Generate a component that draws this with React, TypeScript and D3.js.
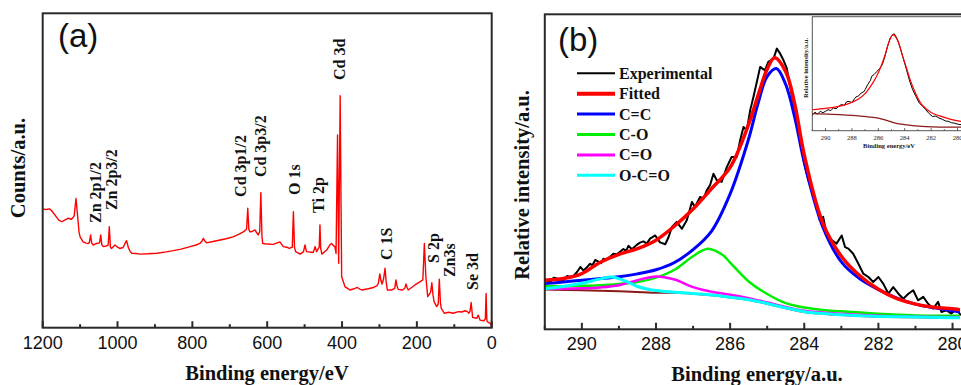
import React from 'react';
import * as d3 from 'd3';

type Pt = [number, number];

// (a) survey spectrum: binding energy (eV), counts (a.u.)
const surveyPoints: Pt[] = [
  [1200, 37.7], [1190, 37.6], [1182, 37.8], [1176, 37.2], [1165, 35.5], [1157, 34.2], [1149, 33.7],
  [1140, 34.3], [1132, 34.8], [1123, 34.5], [1116, 35.5], [1111, 41.1], [1107, 36], [1103, 30.5],
  [1100, 28.9], [1092, 27.3], [1084, 26.9], [1078, 26.8], [1075, 27.2], [1072, 29.5], [1069, 26.9],
  [1065, 26.3], [1056, 26.8], [1048, 27.0], [1045, 29.5], [1042, 26.4], [1038, 25.8], [1030, 26.0],
  [1025, 26.3], [1022, 32.1], [1019, 25.6], [1016, 25.2], [1007, 26.3], [1000, 25.6], [994, 25.2],
  [985, 25.5], [980, 26.8], [976, 27.7], [971, 25.5], [966, 24.2], [962, 23.7], [950, 23.6], [940, 23.4],
  [920, 23.5], [895, 23.7], [870, 24.1], [851, 24.5], [830, 25.0], [806, 25.8], [790, 26.3], [780, 26.8],
  [774, 27.6], [771, 28.4], [766, 27.5], [762, 27.0], [745, 27.4], [726, 27.9], [710, 28.3], [691, 28.9],
  [675, 29.8], [664, 30.5], [657, 31.1], [655, 31.5], [652, 38.0], [649, 31.2], [646, 30.5], [640, 30.6],
  [633, 31.1], [628, 30.2], [624, 29.5], [620, 30.5], [617, 42.9], [614, 29.0], [612, 26.8], [600, 26.6],
  [584, 26.5], [575, 26.9], [566, 27.3], [557, 25.8], [548, 25.6], [541, 25.2], [533, 25.6], [530, 36.9],
  [527, 25.5], [524, 24.2], [512, 23.4], [503, 24.2], [499, 26.3], [495, 24.2], [477, 23.9], [472, 25.8],
  [468, 24.2], [463, 25.2], [461, 25.6], [459, 32.7], [457, 25.2], [454, 23.4], [441, 24.7], [432, 26.4],
  [428, 26.8], [422, 26.0], [419, 25.8], [416, 23.6], [412, 61.3], [409, 20.5], [405, 73.8], [401, 16.2],
  [392, 13.0], [385, 12.5], [379, 12.0], [370, 12.3], [359, 12.8], [353, 12.3], [347, 12.0], [330, 12.4],
  [316, 12.8], [307, 13.3], [303, 14.1], [299, 17.1], [296, 15], [293, 13.9], [289, 15.5], [285, 18.9],
  [282, 14.5], [279, 12.0], [267, 12.0], [259, 12.5], [256, 15.2], [253, 13.3], [250, 12.2], [238, 12.0],
  [232, 12.6], [229, 13.9], [226, 12.8], [223, 12.0], [215, 12.7], [205, 13.6], [192, 14.6], [184, 15.2],
  [180, 26.8], [176, 16.2], [171, 9.9], [165, 10.9], [163, 11.5], [160, 14.3], [157, 10.5], [154, 8.3],
  [147, 6.7], [143, 7.5], [140, 15.4], [137, 8.0], [135, 6.2], [127, 4.6], [115, 4.9], [103, 4.6], [89, 5.1],
  [80, 5.0], [71, 5.4], [64, 5.0], [61, 4.6], [58, 5.2], [55, 8.0], [52, 4.5], [51, 3.3], [40, 3.0], [36, 4.0],
  [31, 2.4], [21, 2.2], [17, 2.8], [15, 10.9], [13, 2.5], [12, 1.9], [4, 1.4], [0, 0.3],
];

// peak assignments: binding energy and intensity where the rotated text starts
const surveyLabels = [
  { text: 'Zn 2p1/2', be: 1044, level: 33.3 },
  { text: 'Zn 2p3/2', be: 1001, level: 37.4 },
  { text: 'Cd 3p1/2', be: 656, level: 41.6 },
  { text: 'Cd 3p3/2', be: 603, level: 47.9 },
  { text: 'O 1s', be: 512, level: 42.2 },
  { text: 'Ti 2p', be: 447, level: 36.5 },
  { text: 'Cd 3d', be: 392, level: 78.8 },
  { text: 'C 1S', be: 266, level: 21.5 },
  { text: 'S 2p', be: 142, level: 20.6 },
  { text: 'Zn3s', be: 98, level: 16.1 },
  { text: 'Se 3d', be: 37, level: 12.0 },
];

const surveyTicks = [1200, 1000, 800, 600, 400, 200, 0];
const surveyMinor = [1100, 900, 700, 500, 300, 100];

// (b) C 1s high resolution spectrum
const experimental: Pt[] = [
  [290.99, 15.8], [290.85, 15.0], [290.76, 16.4], [290.67, 16.1], [290.58, 15.2], [290.49, 15.6],
  [290.40, 16.9], [290.31, 16.6], [290.22, 17.0], [290.13, 18.2], [290.04, 19.8], [289.96, 18.7],
  [289.87, 19.6], [289.78, 20.8], [289.71, 20.4], [289.64, 22.0], [289.55, 21.5], [289.48, 21.0],
  [289.42, 22.4], [289.33, 22.2], [289.24, 23.0], [289.15, 24.0], [289.06, 23.8], [288.97, 24.6],
  [288.88, 25.5], [288.81, 24.9], [288.74, 26.5], [288.65, 25.4], [288.52, 26.8], [288.43, 27.5],
  [288.34, 27.9], [288.25, 27.2], [288.16, 28.8], [288.02, 29.8], [287.95, 28.5], [287.89, 27.6],
  [287.75, 27.0], [287.66, 29.3], [287.57, 32.5], [287.44, 34.1], [287.30, 31.9], [287.17, 34.6],
  [287.03, 40.4], [286.95, 38.8], [286.81, 42.0], [286.72, 41.5], [286.63, 44.1], [286.54, 45.8],
  [286.45, 49.4], [286.36, 47.3], [286.23, 46.8], [286.09, 51.5], [285.96, 54.7], [285.82, 54.7],
  [285.73, 60.0], [285.64, 64.2], [285.55, 63.2], [285.46, 69.5], [285.37, 73.8], [285.28, 78.5],
  [285.19, 83.3], [285.06, 82.2], [284.97, 84.9], [284.83, 85.9], [284.74, 89.1], [284.65, 87.5],
  [284.56, 85.4], [284.47, 82.8], [284.38, 76.9], [284.25, 69.5], [284.16, 63.2], [284.07, 56.8],
  [283.98, 51.5], [283.89, 47.3], [283.76, 43.1], [283.62, 36.7], [283.58, 34.6], [283.49, 35.7],
  [283.40, 30.4], [283.26, 28.3], [283.13, 27.2], [282.99, 29.8], [282.90, 26.1], [282.81, 25.6],
  [282.68, 24.0], [282.54, 20.8], [282.41, 17.7], [282.27, 16.6], [282.14, 15.0], [282.00, 16.6],
  [281.87, 14.5], [281.73, 11.3], [281.60, 13.4], [281.46, 11.3], [281.33, 9.7], [281.19, 11.3],
  [281.06, 12.4], [280.93, 9.2], [280.79, 10.3], [280.66, 8.1], [280.52, 6.6], [280.39, 8.7],
  [280.30, 5.5], [280.16, 6.0], [280.03, 5.0], [279.89, 6.6], [279.78, 4.4],
];

const fitted: Pt[] = [
  [291, 15.6], [290.5, 16.1], [290, 17.7], [289.5, 21.3], [289, 23.8], [288.5, 25.6], [288, 28.3],
  [287.5, 32.8], [287, 38.2], [286.5, 44.7], [286, 51.4], [285.5, 65.1], [285.25, 74.1], [285, 82.6],
  [284.8, 86.2], [284.5, 81.8], [284.25, 71.1], [284, 55.3], [283.5, 33.7], [283, 23.2], [282.5, 17.0],
  [282, 12.7], [281.5, 9.7], [281, 8.0], [280.5, 7.0], [280, 6.5], [279.8, 6.2],
];

const cEqC: Pt[] = [
  [291, 14.5], [290.5, 15.0], [290, 15.6], [289.5, 16.1], [289, 16.7], [288.5, 17.6], [288, 18.9],
  [287.5, 21.2], [287, 25.3], [286.5, 31.2], [286, 43.0], [285.5, 60.5], [285.25, 71.6], [285, 80.3],
  [284.75, 82.8], [284.5, 77.7], [284.25, 66.9], [284, 53.0], [283.5, 32.5], [283, 21.4], [282.5, 16.0],
  [282, 12.6], [281.5, 9.9], [281, 8.0], [280.5, 6.8], [280, 5.9], [279.8, 5.5],
];

const cO: Pt[] = [
  [291, 13.7], [290.5, 13.7], [290, 13.8], [289.5, 14.0], [289, 14.4], [288.5, 15.0], [288, 16.4],
  [287.5, 18.9], [287, 23.2], [286.6, 25.6], [286.2, 23.6], [286, 21.2], [285.5, 15.2], [285, 11.2],
  [284.5, 8.3], [284, 6.9], [283.5, 6.1], [283, 5.7], [282, 4.9], [281, 4.4], [280, 4.3], [279.8, 4.3],
];

const cEqO: Pt[] = [
  [291, 12.9], [290.5, 12.9], [290, 13.0], [289.5, 13.3], [289, 14.0], [288.5, 15.6], [288, 16.8],
  [287.5, 15.8], [287, 13.4], [286.5, 11.9], [286, 11.0], [285.5, 9.9], [285, 8.5], [284.5, 7.1],
  [284, 5.9], [283, 4.9], [282, 4.3], [281, 4.0], [279.8, 3.8],
];

const oCeqO: Pt[] = [
  [291, 12.9], [290.5, 13.6], [290, 14.6], [289.5, 16.0], [289.2, 16.6], [288.8, 15.2], [288.5, 13.6],
  [288, 12.3], [287.5, 11.8], [287, 11.4], [286.5, 10.9], [286, 10.2], [285.5, 9.4], [285, 8.2],
  [284.5, 6.8], [284, 5.6], [283.5, 5.0], [283, 4.6], [282.5, 4.3], [282, 4.1], [281, 3.9], [280, 3.7],
  [279.8, 3.7],
];

const background: Pt[] = [
  [291, 12.6], [290, 12.4], [289, 12.1], [288, 11.6], [287.5, 11.6], [287, 11.3], [286.5, 10.8],
  [286, 10.1], [285.5, 9.3], [285, 8.1], [284.5, 6.7], [284, 5.5], [283.5, 4.9], [283, 4.5], [282, 4.0],
  [281, 3.8], [280, 3.6], [279.8, 3.6],
];

const c1sTicks = [290, 288, 286, 284, 282, 280];
const c1sMinor = [291, 289, 287, 285, 283, 281, 279];

const legendItems = [
  { name: 'Experimental', color: '#000000', width: 2 },
  { name: 'Fitted', color: '#ff0000', width: 4 },
  { name: 'C=C', color: '#0000ff', width: 3 },
  { name: 'C-O', color: '#00ee00', width: 3 },
  { name: 'C=O', color: '#ff00ff', width: 3 },
  { name: 'O-C=O', color: '#00ffff', width: 3 },
];

// inset: raw C 1s with envelope
const insetExperimental: Pt[] = [
  [291.0, 14.0], [290.8, 16.2], [290.6, 14.5], [290.4, 17.0], [290.2, 15.8], [290.0, 17.0], [289.8, 18.5],
  [289.6, 17.6], [289.4, 20.0], [289.2, 19.2], [289.0, 21.3], [288.8, 23.0], [288.6, 22.2], [288.4, 25.3],
  [288.2, 25.7], [288.0, 24.6], [287.8, 28.0], [287.7, 29.5], [287.5, 30.5], [287.3, 33.0], [287.1, 34.2],
  [287.0, 36.0], [286.8, 40.5], [286.6, 44.0], [286.5, 47.7], [286.3, 49.5], [286.1, 52.0], [285.9, 54.5],
  [285.7, 57.9], [285.5, 65.0], [285.3, 74.0], [285.1, 81.3], [284.95, 83.5], [284.8, 85.1], [284.6, 81.3],
  [284.45, 76.5], [284.3, 71.1], [284.1, 63.0], [283.9, 55.0], [283.65, 44.5], [283.4, 36.0], [283.15, 30.0],
  [282.9, 24.3], [282.65, 21.5], [282.4, 18.4], [282.15, 15.0], [281.9, 12.5], [281.65, 12.8], [281.4, 11.1],
  [281.15, 10.0], [280.9, 8.5], [280.7, 8.2], [280.45, 7.0], [280.2, 6.5], [279.95, 5.6], [279.7, 5.3],
];

const insetFitted: Pt[] = [
  [291, 18.4], [290, 19.5], [289, 21.3], [288.2, 24.0], [287.5, 27.8], [287, 32.5], [286.5, 40.4],
  [286.1, 48.5], [285.8, 56.4], [285.5, 66.0], [285.3, 74.0], [285.1, 80.5], [284.9, 84.2], [284.7, 82.5],
  [284.45, 76.9], [284.2, 67.0], [283.9, 56.4], [283.4, 38.9], [282.7, 22.8], [282, 16.0], [281.4, 13.2],
  [280.5, 10.0], [279.7, 8.2],
];

const insetBackground: Pt[] = [
  [291, 14.9], [289.5, 14.3], [287.7, 13.2], [286.8, 12.2], [286, 11.1], [285.3, 8.8], [284.7, 6.7],
  [284, 5.3], [283.4, 4.4], [282.4, 3.6], [281.4, 3.2], [279.7, 3.2],
];

const insetTicks = [290, 288, 286, 284, 282, 280];
const insetMinor = [291, 289, 287, 285, 283, 281];

const SERIF = '"Liberation Serif", "Times New Roman", serif';
const SANS = '"Liberation Sans", Arial, sans-serif';
const AXIS = '#2a2a2a';

export default function App() {
  // panel (a)
  const xa = d3.scaleLinear().domain([1200, 0]).range([42.7, 491.7]);
  const ya = d3.scaleLinear().domain([0, 100]).range([327.7, 13.3]);
  const lineA = d3.line<Pt>().x(d => xa(d[0])).y(d => ya(d[1]));

  // panel (b)
  const xb = d3.scaleLinear().domain([291, 279]).range([544.8, 989.6]);
  const yb = d3.scaleLinear().domain([0, 100]).range([329.3, 14.3]);
  const smoothB = d3.line<Pt>().x(d => xb(d[0])).y(d => yb(d[1])).curve(d3.curveCatmullRom.alpha(0.5));
  const rawB = d3.line<Pt>().x(d => xb(d[0])).y(d => yb(d[1]));

  // inset
  const xi = d3.scaleLinear().domain([291, 279]).range([812.3, 970.7]);
  const yi = d3.scaleLinear().domain([0, 100]).range([130.7, 16.7]);
  const smoothI = d3.line<Pt>().x(d => xi(d[0])).y(d => yi(d[1])).curve(d3.curveCatmullRom.alpha(0.5));
  const rawI = d3.line<Pt>().x(d => xi(d[0])).y(d => yi(d[1]));

  const [a0, a1] = ya.range();
  const [b0, b1] = yb.range();
  const [i0, i1] = yi.range();

  return (
    <svg width={961} height={385} style={{ position: 'absolute', left: 0, top: 0, background: '#fff' }}>
      <defs>
        <clipPath id="clipB">
          <rect x={xb(291)} y={b1} width={xb(279) - xb(291)} height={b0 - b1} />
        </clipPath>
      </defs>

      {/* ---------- (a) ---------- */}
      <path d={lineA(surveyPoints) || ''} fill="none" stroke="#ff0000" strokeWidth={1.4} strokeLinejoin="round" />
      <rect x={xa(1200)} y={a1} width={xa(0) - xa(1200)} height={a0 - a1} fill="none" stroke={AXIS} strokeWidth={2} />
      {surveyTicks.map(t => (
        <g key={t}>
          <line x1={xa(t)} x2={xa(t)} y1={a0} y2={a0 - 6.5} stroke={AXIS} strokeWidth={2} />
          <text x={xa(t)} y={349} textAnchor="middle" fontFamily={SANS} fontSize={18} fill="#111">{t}</text>
        </g>
      ))}
      {surveyMinor.map(t => (
        <line key={t} x1={xa(t)} x2={xa(t)} y1={a0} y2={a0 - 3.5} stroke={AXIS} strokeWidth={2} />
      ))}
      {surveyLabels.map(l => (
        <text key={l.text} transform={`translate(${xa(l.be)},${ya(l.level)}) rotate(-90)`}
          fontFamily={SERIF} fontWeight="bold" fontSize={16} fill="#111">{l.text}</text>
      ))}
      <text x={58} y={47} fontFamily={SANS} fontSize={33} fill="#111">(a)</text>
      <text x={267} y={380} textAnchor="middle" fontFamily={SERIF} fontWeight="bold" fontSize={20.5} fill="#111">Binding energy/eV</text>
      <text transform="translate(25,168) rotate(-90)" textAnchor="middle" fontFamily={SERIF} fontWeight="bold" fontSize={20.5} fill="#111">Counts/a.u.</text>

      {/* ---------- (b) ---------- */}
      <g clipPath="url(#clipB)">
        <path d={rawB(experimental) || ''} fill="none" stroke="#000" strokeWidth={2} strokeLinejoin="round" />
        <path d={smoothB(background) || ''} fill="none" stroke="#8b1a1a" strokeWidth={2} />
        <path d={smoothB(cEqC) || ''} fill="none" stroke="#0000ff" strokeWidth={3} />
        <path d={smoothB(cO) || ''} fill="none" stroke="#00ee00" strokeWidth={2.5} />
        <path d={smoothB(cEqO) || ''} fill="none" stroke="#ff00ff" strokeWidth={2.5} />
        <path d={smoothB(oCeqO) || ''} fill="none" stroke="#00ffff" strokeWidth={3} />
        <path d={smoothB(fitted) || ''} fill="none" stroke="#ff0000" strokeWidth={3.5} />
      </g>
      <rect x={xb(291)} y={b1} width={xb(279) - xb(291)} height={b0 - b1} fill="none" stroke={AXIS} strokeWidth={2} />
      {c1sTicks.map(t => (
        <g key={t}>
          <line x1={xb(t)} x2={xb(t)} y1={b0} y2={b0 - 6.5} stroke={AXIS} strokeWidth={2} />
          <text x={xb(t)} y={350} textAnchor="middle" fontFamily={SANS} fontSize={18} fill="#111">{t}</text>
        </g>
      ))}
      {c1sMinor.map(t => (
        <line key={t} x1={xb(t)} x2={xb(t)} y1={b0} y2={b0 - 3.5} stroke={AXIS} strokeWidth={2} />
      ))}
      {legendItems.map((item, i) => (
        <g key={item.name} transform={`translate(0,${73.3 + i * 20.4})`}>
          <line x1={577} x2={615} y1={0} y2={0} stroke={item.color} strokeWidth={item.width} />
          <text x={619} y={5.5} fontFamily={SERIF} fontWeight="bold" fontSize={16} fill="#111">{item.name}</text>
        </g>
      ))}
      <text x={558} y={51} fontFamily={SANS} fontSize={33} fill="#111">(b)</text>
      <text x={757} y={381} textAnchor="middle" fontFamily={SERIF} fontWeight="bold" fontSize={20.5} fill="#111">Binding energy/a.u.</text>
      <text transform="translate(529,185) rotate(-90)" textAnchor="middle" fontFamily={SERIF} fontWeight="bold" fontSize={20.5} fill="#111">Relative intensity/a.u.</text>

      {/* ---------- inset ---------- */}
      <rect x={xi(291)} y={i1} width={xi(279) - xi(291)} height={i0 - i1} fill="#fff" stroke="#555" strokeWidth={1} />
      <path d={rawI(insetExperimental) || ''} fill="none" stroke="#000" strokeWidth={1} />
      <path d={smoothI(insetBackground) || ''} fill="none" stroke="#8b1a1a" strokeWidth={1.2} />
      <path d={smoothI(insetFitted) || ''} fill="none" stroke="#ff0000" strokeWidth={1.2} />
      {insetTicks.map(t => (
        <g key={t}>
          <line x1={xi(t)} x2={xi(t)} y1={i0} y2={i0 - 2.5} stroke="#555" strokeWidth={1} />
          <text x={xi(t)} y={139.5} textAnchor="middle" fontFamily={SERIF} fontSize={6.5} fill="#222">{t}</text>
        </g>
      ))}
      {insetMinor.map(t => (
        <line key={t} x1={xi(t)} x2={xi(t)} y1={i0} y2={i0 - 1.5} stroke="#555" strokeWidth={1} />
      ))}
      <text x={889} y={148} textAnchor="middle" fontFamily={SERIF} fontWeight="bold" fontSize={6.5} fill="#222">Binding energy/eV</text>
      <text transform="translate(808,68) rotate(-90)" textAnchor="middle" fontFamily={SERIF} fontWeight="bold" fontSize={6.5} fill="#222">Relative intensity/a.u.</text>
    </svg>
  );
}
